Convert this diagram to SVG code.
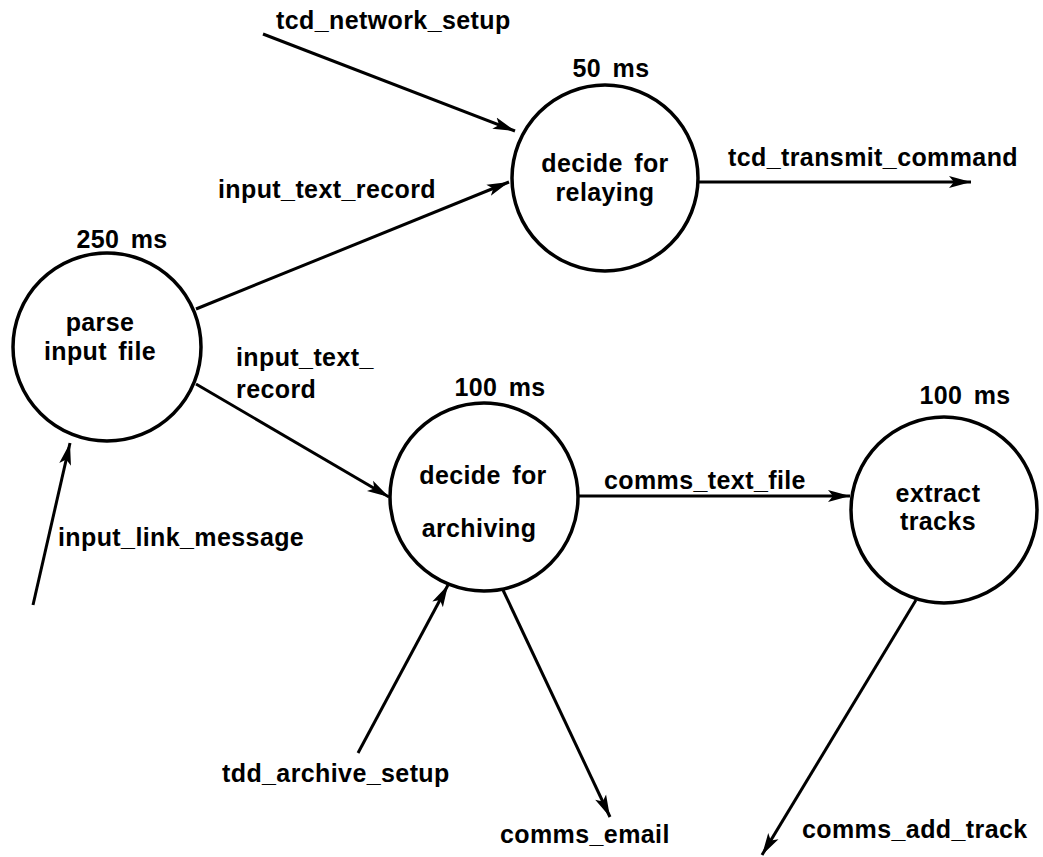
<svg xmlns="http://www.w3.org/2000/svg" width="1043" height="857" viewBox="0 0 1043 857">
<style>
text{font-family:"Liberation Sans",Arial,sans-serif;font-weight:bold;font-size:25px;fill:#000;word-spacing:4px;letter-spacing:0.4px}
.c{text-anchor:middle}
.node{fill:#fff;stroke:#000;stroke-width:3.5}
.edge{stroke:#000;stroke-width:3;fill:none;marker-end:url(#ah)}
</style>
<defs>
<marker id="ah" markerUnits="userSpaceOnUse" markerWidth="24" markerHeight="16" refX="22" refY="8" orient="auto">
<path d="M0,2 L22,8 L0,14 L5,8 Z" fill="#000"/>
</marker>
</defs>
<rect width="1043" height="857" fill="#fff"/>
<g id="connectors">
<line class="edge" x1="263" y1="34" x2="515" y2="131"/>
<line class="edge" x1="196" y1="309" x2="509" y2="182"/>
<line class="edge" x1="699" y1="182" x2="971" y2="182"/>
<line class="edge" x1="196" y1="384" x2="389" y2="497"/>
<line class="edge" x1="33" y1="605" x2="70" y2="443"/>
<line class="edge" x1="576" y1="496" x2="850" y2="496"/>
<line class="edge" x1="358" y1="753" x2="448" y2="585"/>
<line class="edge" x1="503" y1="590" x2="610" y2="817"/>
<line class="edge" x1="916" y1="600" x2="762" y2="855"/>
</g>
<g id="labels">
<text x="276" y="29">tcd_network_setup</text>
<text x="218" y="198">input_text_record</text>
<text x="728" y="166">tcd_transmit_command</text>
<text x="236" y="366">input_text_</text>
<text x="236" y="398">record</text>
<text x="58" y="546">input_link_message</text>
<text x="604" y="489">comms_text_file</text>
<text x="222" y="782">tdd_archive_setup</text>
<text x="500" y="843">comms_email</text>
<text x="802" y="838">comms_add_track</text>
</g>
<g id="parse">
<circle class="node" cx="107" cy="347" r="94"/>
<text class="c" x="122" y="248">250 ms</text>
<text class="c" x="100" y="331">parse</text>
<text class="c" x="100" y="360">input file</text>
</g>
<g id="relaying">
<circle class="node" cx="605" cy="178" r="93"/>
<text class="c" x="611" y="77">50 ms</text>
<text class="c" x="605" y="172">decide for</text>
<text class="c" x="605" y="201">relaying</text>
</g>
<g id="archiving">
<circle class="node" cx="484" cy="497" r="94"/>
<text class="c" x="500" y="396">100 ms</text>
<text class="c" x="483" y="484">decide for</text>
<text class="c" x="479" y="537">archiving</text>
</g>
<g id="extract">
<circle class="node" cx="944" cy="510" r="93"/>
<text class="c" x="965" y="404">100 ms</text>
<text class="c" x="938" y="502">extract</text>
<text class="c" x="938" y="530">tracks</text>
</g>
</svg>
